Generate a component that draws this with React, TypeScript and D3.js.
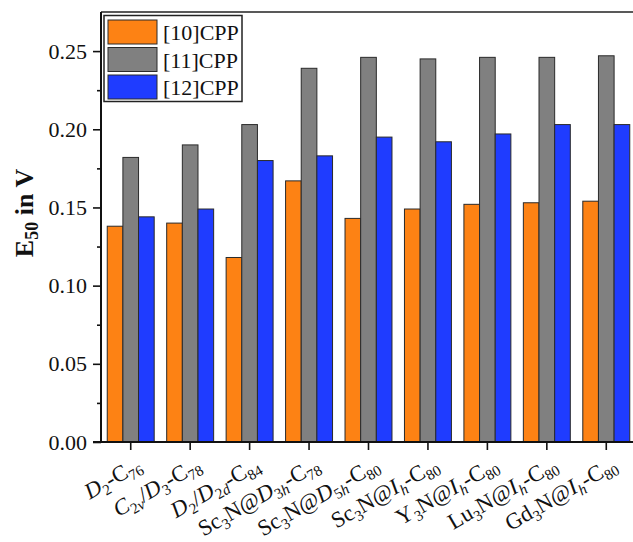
import React, { useEffect, useRef } from "react";
import * as d3 from "d3";

// categories on the x axis (parts: [text, style]; style: n normal, i italic, s sub, si italic sub)
const categories = [
  "D2-C76",
  "C2v/D3-C78",
  "D2/D2d-C84",
  "Sc3N@D3h-C78",
  "Sc3N@D5h-C80",
  "Sc3N@Ih-C80",
  "Y3N@Ih-C80",
  "Lu3N@Ih-C80",
  "Gd3N@Ih-C80",
];

const categoryParts: [string, string][][] = [
  [["D", "i"], ["2", "s"], ["-C", "n"], ["76", "s"]],
  [["C", "i"], ["2", "s"], ["v", "si"], ["/", "n"], ["D", "i"], ["3", "s"], ["-C", "n"], ["78", "s"]],
  [["D", "i"], ["2", "s"], ["/", "n"], ["D", "i"], ["2", "s"], ["d", "si"], ["-C", "n"], ["84", "s"]],
  [["Sc", "n"], ["3", "s"], ["N@", "n"], ["D", "i"], ["3", "s"], ["h", "si"], ["-C", "n"], ["78", "s"]],
  [["Sc", "n"], ["3", "s"], ["N@", "n"], ["D", "i"], ["5", "s"], ["h", "si"], ["-C", "n"], ["80", "s"]],
  [["Sc", "n"], ["3", "s"], ["N@", "n"], ["I", "i"], ["h", "si"], ["-C", "n"], ["80", "s"]],
  [["Y", "n"], ["3", "s"], ["N@", "n"], ["I", "i"], ["h", "si"], ["-C", "n"], ["80", "s"]],
  [["Lu", "n"], ["3", "s"], ["N@", "n"], ["I", "i"], ["h", "si"], ["-C", "n"], ["80", "s"]],
  [["Gd", "n"], ["3", "s"], ["N@", "n"], ["I", "i"], ["h", "si"], ["-C", "n"], ["80", "s"]],
];

const seriesNames = ["[10]CPP", "[11]CPP", "[12]CPP"];
const cpp10 = [0.138, 0.140, 0.118, 0.167, 0.143, 0.149, 0.152, 0.153, 0.154];
const cpp11 = [0.182, 0.190, 0.203, 0.239, 0.246, 0.245, 0.246, 0.246, 0.247];
const cpp12 = [0.144, 0.149, 0.180, 0.183, 0.195, 0.192, 0.197, 0.203, 0.203];
const yTicks = [0, 0.05, 0.1, 0.15, 0.2, 0.25];
const yMinorTicks = [0.025, 0.075, 0.125, 0.175, 0.225];

const colors = ["#fd8214", "#808080", "#1f3cff"];

const App = () => {
  const ref = useRef<SVGSVGElement>(null);

  useEffect(() => {
    const svg = d3.select(ref.current);
    svg.selectAll("*").remove();

    const left = 101, right = 636, top = 12, bottom = 442;
    const font = "'Liberation Serif', 'Times New Roman', serif";
    const values = [cpp10, cpp11, cpp12];

    const x = d3.scaleBand().domain(categories).range([left, right])
      .paddingInner(0.21).paddingOuter(0.105);
    const xs = d3.scaleBand().domain(seriesNames).range([0, x.bandwidth()]);
    const y = d3.scaleLinear().domain([0, 0.275]).range([bottom, top]);

    // bars
    seriesNames.forEach((s, si) => {
      svg.append("g")
        .selectAll("rect")
        .data(values[si])
        .enter()
        .append("rect")
        .attr("x", (d, i) => (x(categories[i]) as number) + (xs(s) as number))
        .attr("y", d => y(d))
        .attr("width", xs.bandwidth())
        .attr("height", d => y(0) - y(d))
        .attr("fill", colors[si])
        .attr("stroke", "#2a2a2a")
        .attr("stroke-width", 1);
    });

    // frame top
    svg.append("line")
      .attr("x1", left).attr("x2", 640).attr("y1", top).attr("y2", top)
      .attr("stroke", "#222").attr("stroke-width", 1.6);

    // y axis
    const yAxis = svg.append("g").attr("transform", `translate(${left},0)`)
      .call(d3.axisLeft(y).tickValues(yTicks).tickSize(8).tickSizeOuter(0)
        .tickFormat(d3.format(".2f")));
    svg.append("g").attr("transform", `translate(${left},0)`)
      .call(d3.axisLeft(y).tickValues(yMinorTicks).tickSize(4).tickSizeOuter(0).tickFormat(() => ""))
      .select(".domain").remove();
    yAxis.select(".domain").attr("d", `M0,${top}V${bottom}`);
    yAxis.selectAll("text").attr("font-family", font).attr("font-size", 22)
      .attr("fill", "#111").attr("x", -14);

    // x axis
    const xAxis = svg.append("g").attr("transform", `translate(0,${bottom})`)
      .call(d3.axisBottom(x).tickSize(8).tickSizeOuter(0).tickFormat(() => ""));
    xAxis.select(".domain").attr("d", `M${left - 8},0H640`);

    svg.selectAll(".domain").attr("stroke", "#111").attr("stroke-width", 2);
    svg.selectAll(".tick line").attr("stroke", "#111").attr("stroke-width", 1.6);

    // rotated category labels
    categories.forEach((c, i) => {
      const cx = (x(c) as number) + x.bandwidth() / 2;
      const t = svg.append("text")
        .attr("transform", `translate(${cx + 12},${bottom + 27}) rotate(-30)`)
        .attr("text-anchor", "end")
        .attr("font-family", font)
        .attr("font-size", 22.5)
        .attr("fill", "#111");
      let sub = false;
      categoryParts[i].forEach(([txt, st]) => {
        const isSub = st === "s" || st === "si";
        const ts = t.append("tspan").text(txt);
        if (st === "i" || st === "si") ts.attr("font-style", "italic");
        if (isSub) ts.attr("font-size", 15);
        if (isSub && !sub) ts.attr("dy", 5);
        if (!isSub && sub) ts.attr("dy", -5);
        sub = isSub;
      });
    });

    // y label
    const yl = svg.append("text")
      .attr("transform", "translate(33,213) rotate(-90)")
      .attr("text-anchor", "middle")
      .attr("font-family", font)
      .attr("font-weight", "bold")
      .attr("font-size", 26)
      .attr("fill", "#111");
    yl.append("tspan").text("E");
    yl.append("tspan").text("50").attr("font-size", 18).attr("dy", 5);
    yl.append("tspan").text(" in V").attr("dy", -5);

    // legend
    const lg = svg.append("g");
    lg.append("rect").attr("x", 104).attr("y", 15.5).attr("width", 138).attr("height", 86)
      .attr("fill", "white").attr("stroke", "#222").attr("stroke-width", 1.5);
    seriesNames.forEach((s, i) => {
      lg.append("rect").attr("x", 108).attr("y", 20 + i * 27.5).attr("width", 49).attr("height", 24)
        .attr("fill", colors[i]).attr("stroke", "#2a2a2a").attr("stroke-width", 1);
      lg.append("text").attr("x", 163).attr("y", 40 + i * 27.5)
        .attr("font-family", font).attr("font-size", 22).attr("fill", "#111").text(s);
    });
  }, []);

  return (
    <svg ref={ref} width={633} height={542}
      style={{ position: "absolute", left: 0, top: 0, background: "white" }} />
  );
};

export default App;
